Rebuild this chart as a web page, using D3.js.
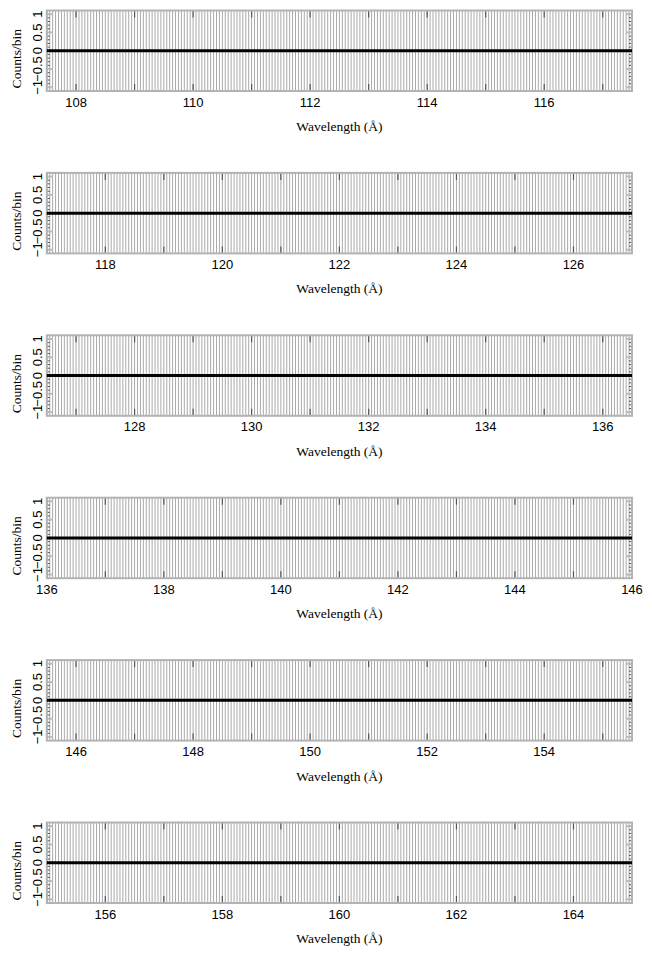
<!DOCTYPE html>
<html><head><meta charset="utf-8">
<script src="https://cdn.jsdelivr.net/npm/d3@7"></script>
<style>html,body{margin:0;padding:0;background:#fff;}svg{display:block;}</style>
</head><body>
<svg id="chart" width="652" height="953"></svg>
<script>
// ---- data ----
const panelRanges = [[107.5,117.5],[117,127],[126.5,136.5],[136,146],[145.5,155.5],[155,165]];
const xTickLabels = [
  [108,110,112,114,116],
  [118,120,122,124,126],
  [128,130,132,134,136],
  [136,138,140,142,144,146],
  [146,148,150,152,154],
  [156,158,160,162,164]
];
const yTickValues = [-1,-0.5,0,0.5,1];
const yTickLabels = ["\u22121","\u22120.5","0","0.5","1"];
const binWidth = 0.05;      // spectral bin width (Å)
const binCount = 0;         // counts in every bin
const binError = 1.87;      // error on zero counts (Gehrels)
const yDomain = [-1.1, 1.1];
const xTitle = "Wavelength (\u00C5)";
const yTitle = "Counts/bin";

// ---- layout ----
const svg = d3.select("#chart");
const left = 46.8, right = 632, plotH = 80.5, top0 = 10.5, step = 162.4;

panelRanges.forEach((rng, i) => {
  const top = top0 + i*step, bottom = top + plotH;
  const x = d3.scaleLinear().domain(rng).range([left, right]);
  const y = d3.scaleLinear().domain(yDomain).range([bottom, top]);
  const g = svg.append("g");
  const cid = "clip" + i;
  svg.append("clipPath").attr("id", cid).append("rect")
     .attr("x", left).attr("y", top).attr("width", right-left).attr("height", plotH);

  // bins
  const bins = d3.range(Math.ceil(rng[0]/binWidth), Math.floor(rng[1]/binWidth)+1)
                 .map(k => ({w: k*binWidth, c: binCount, e: binError}));
  const pg = g.append("g").attr("clip-path", `url(#${cid})`);
  pg.selectAll("line.err").data(bins).join("line").attr("class","err")
    .attr("x1", d => x(d.w)).attr("x2", d => x(d.w))
    .attr("y1", d => y(d.c - d.e)).attr("y2", d => y(d.c + d.e))
    .attr("stroke", "#999").attr("stroke-width", 0.85);

  // y ticks minor/major
  const yMinor = d3.range(-10, 11).map(k => k/10);
  [left, right].forEach((xe, side) => {
    const dir = side === 0 ? 1 : -1;
    g.selectAll(null).data(yMinor).join("line")
      .attr("x1", xe).attr("x2", xe + dir*3)
      .attr("y1", d => y(d)).attr("y2", d => y(d))
      .attr("stroke", "#555").attr("stroke-width", 1);
    g.selectAll(null).data(yTickValues).join("line")
      .attr("x1", xe).attr("x2", xe + dir*6)
      .attr("y1", d => y(d)).attr("y2", d => y(d))
      .attr("stroke", "#bbb").attr("stroke-width", 2);
  });
  // x ticks each Å
  const xMinor = d3.range(Math.ceil(rng[0]), Math.floor(rng[1])+1);
  [top, bottom].forEach((ye, side) => {
    const dir = side === 0 ? 1 : -1;
    g.selectAll(null).data(xMinor).join("line")
      .attr("x1", d => x(d)).attr("x2", d => x(d))
      .attr("y1", ye).attr("y2", ye + dir*7)
      .attr("stroke", "#555").attr("stroke-width", 1.2);
  });

  // frame
  g.append("rect").attr("x", left).attr("y", top).attr("width", right-left).attr("height", plotH)
    .attr("fill","none").attr("stroke","#b3b3b3").attr("stroke-width",2);

  // counts line (step histogram spanning the full range), on top
  const stepPts = [{w: rng[0], c: binCount}, ...bins, {w: rng[1], c: binCount}];
  g.append("path").datum(stepPts)
    .attr("d", d3.line().curve(d3.curveStepAfter).x(d => x(d.w)).y(d => y(d.c)))
    .attr("fill","none").attr("stroke","#000").attr("stroke-width",3);

  // x tick labels
  g.selectAll("text.xt").data(xTickLabels[i]).join("text").attr("class","xt")
    .attr("x", d => x(d)).attr("y", bottom + 15.5)
    .attr("text-anchor","middle").attr("font-family","'Liberation Sans', Arial, sans-serif")
    .attr("font-size", 13).attr("fill","#000").text(d => d);
  // y tick labels (rotated)
  g.selectAll("text.yt").data(yTickValues).join("text").attr("class","yt")
    .attr("transform", d => `translate(42,${y(d)}) rotate(-90)`)
    .attr("text-anchor","middle").attr("font-family","'Liberation Sans', Arial, sans-serif")
    .attr("font-size", 13).attr("fill","#000").text((d, j) => yTickLabels[j]);
  // titles
  g.append("text").attr("x", (left+right)/2).attr("y", bottom + 40)
    .attr("text-anchor","middle").attr("font-family","'Liberation Serif', 'Times New Roman', serif")
    .attr("font-size", 13.5).attr("fill","#000").text(xTitle);
  g.append("text").attr("transform", `translate(21,${(top+bottom)/2 + 8}) rotate(-90)`)
    .attr("text-anchor","middle").attr("font-family","'Liberation Serif', 'Times New Roman', serif")
    .attr("font-size", 13.5).attr("fill","#000").text(yTitle);
});
</script>
</body></html>
